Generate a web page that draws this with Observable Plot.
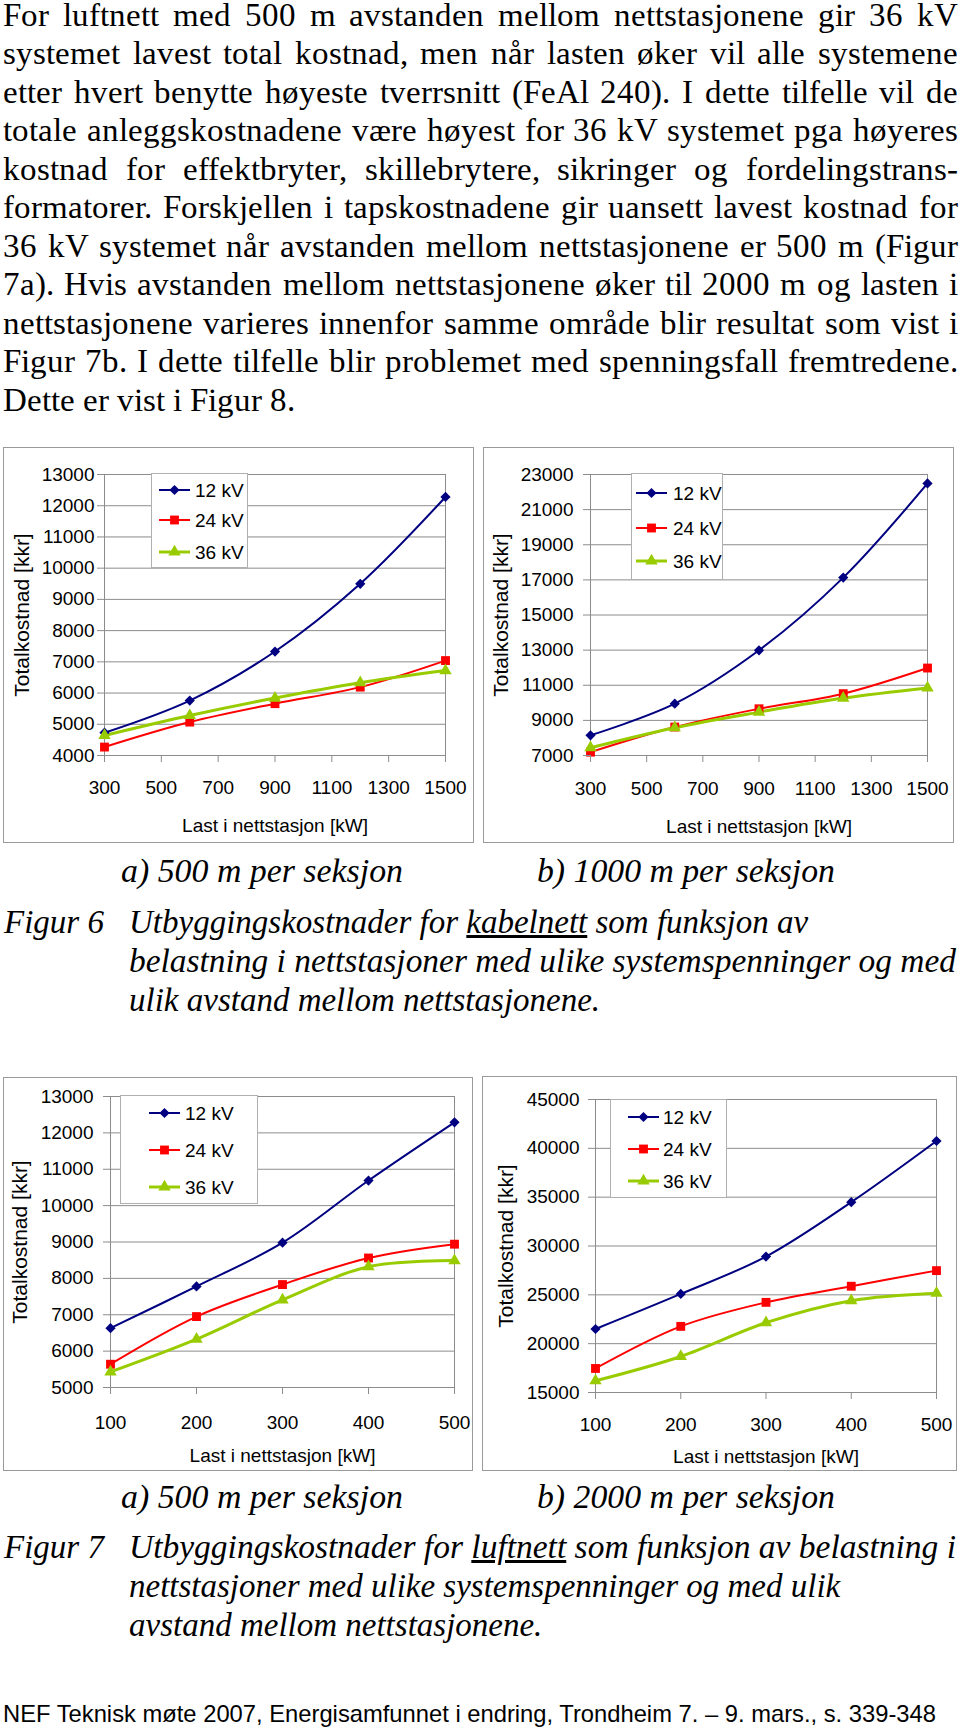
<!DOCTYPE html>
<html><head><meta charset="utf-8">
<script src="https://cdn.jsdelivr.net/npm/d3@7"></script>
<script src="https://cdn.jsdelivr.net/npm/@observablehq/plot@0.6"></script>
<style>
@font-face{font-family:"PSerif";src:local("Liberation Serif"),local("LiberationSerif");font-style:normal;font-weight:400;ascent-override:74%;descent-override:22%;line-gap-override:0%;}
html,body{margin:0;padding:0;background:#fff;overflow:hidden;}
#page{position:relative;width:960px;height:1731px;overflow:hidden;background:#fff;}
.ln{position:absolute;white-space:nowrap;color:#000;transform-origin:0 0;}
.serif{font-family:"Liberation Serif","Times New Roman",serif;}
.pserif{font-family:"PSerif","Liberation Serif","Times New Roman",serif;}
.sans{font-family:"Liberation Sans",Arial,sans-serif;}
.box{position:absolute;border:1.5px solid #9a9a9a;box-sizing:border-box;pointer-events:none;}
.leg{position:absolute;overflow:visible;}
.bm{display:inline-block;width:0;height:0;vertical-align:baseline;}
</style></head><body><div id="page"></div>
<script>
// ---------- data ----------
const seriesNames = ["12 kV", "24 kV", "36 kV"];

// Figur 6 (kabelnett): load 300..1500 kW
const kabelLoad = [300, 600, 900, 1200, 1500];
const kabel500_12 = [4730, 5760, 7330, 9500, 12280];
const kabel500_24 = [4270, 5070, 5660, 6190, 7040];
const kabel500_36 = [4640, 5280, 5840, 6330, 6720];
const kabel1000_12 = [8150, 9950, 12990, 17130, 22490];
const kabel1000_24 = [7190, 8620, 9660, 10520, 11980];
const kabel1000_36 = [7440, 8580, 9470, 10270, 10850];

// Figur 7 (luftnett): load 100..500 kW
const luftLoad = [100, 200, 300, 400, 500];
const luft500_12 = [6630, 7780, 8980, 10690, 12290];
const luft500_24 = [5640, 6950, 7830, 8560, 8940];
const luft500_36 = [5430, 6330, 7410, 8320, 8490];
const luft2000_12 = [21500, 25090, 28920, 34490, 40750];
const luft2000_24 = [17460, 21770, 24230, 25880, 27480];
const luft2000_36 = [16200, 18690, 22150, 24400, 25160];

// tick values
const kabelXTicks = [300, 500, 700, 900, 1100, 1300, 1500];
const kabel500YTicks = [4000, 5000, 6000, 7000, 8000, 9000, 10000, 11000, 12000, 13000];
const kabel1000YTicks = [7000, 9000, 11000, 13000, 15000, 17000, 19000, 21000, 23000];
const luftXTicks = [100, 200, 300, 400, 500];
const luft500YTicks = [5000, 6000, 7000, 8000, 9000, 10000, 11000, 12000, 13000];
const luft2000YTicks = [15000, 20000, 25000, 30000, 35000, 40000, 45000];

const xTitle = "Last i nettstasjon [kW]";
const yTitle = "Totalkostnad [kkr]";

// ---------- styles ----------
const seriesColors = ["#000080", "#ff0000", "#99cc00"];
const seriesWidths = [2, 2, 3];
const seriesSymbols = ["diamond2", "square", "triangle"];
const seriesR = [4.6, 5, 4.6];
const GRID = "#8c8c8c";

const page = document.getElementById("page");

// ---------- text ----------
const paraLines = [
  "For luftnett med 500 m avstanden mellom nettstasjonene gir 36 kV",
  "systemet lavest total kostnad, men når lasten øker vil alle systemene",
  "etter hvert benytte høyeste tverrsnitt (FeAl 240). I dette tilfelle vil de",
  "totale anleggskostnadene være høyest for 36 kV systemet pga høyeres",
  "kostnad for effektbryter, skillebrytere, sikringer og fordelingstrans-",
  "formatorer. Forskjellen i tapskostnadene gir uansett lavest kostnad for",
  "36 kV systemet når avstanden mellom nettstasjonene er 500 m (Figur",
  "7a). Hvis avstanden mellom nettstasjonene øker til 2000 m og lasten i",
  "nettstasjonene varieres innenfor samme område blir resultat som vist i",
  "Figur 7b. I dette tilfelle blir problemet med spenningsfall fremtredene.",
  "Dette er vist i Figur 8."
];

function addLine(t) {
  const d = document.createElement("div");
  d.className = "ln " + (t.sans ? "sans" : (t.para ? "pserif" : "serif"));
  d.style.fontSize = t.size + "px";
  d.style.lineHeight = (0.9 * t.size) + "px";
  if (t.italic) d.style.fontStyle = "italic";
  d.innerHTML = t.html;
  d.style.left = t.x + "px";
  d.style.top = (t.y - 0.75 * t.size) + "px";
  page.appendChild(d);
  // place the baseline exactly at t.y
  const mark = document.createElement("span");
  mark.className = "bm";
  d.appendChild(mark);
  const pageTop = page.getBoundingClientRect().top;
  const base = mark.getBoundingClientRect().top - pageTop;
  d.removeChild(mark);
  d.style.top = (parseFloat(d.style.top) + (t.y - base)) + "px";
  const nat = d.getBoundingClientRect().width;
  if (t.w) {
    if (t.justify && nat < t.w) {
      const spaces = (d.textContent.match(/ /g) || []).length;
      if (spaces) d.style.wordSpacing = ((t.w - nat) / spaces) + "px";
    } else {
      let s = t.w / nat;
      s = Math.max(0.85, Math.min(1.12, s));
      d.style.transform = `scaleX(${s})`;
    }
  }
}

paraLines.forEach((txt, i) => {
  addLine({html: txt, x: 3, y: 25.5 + 38.5 * i, size: 33, para: true,
           w: i < paraLines.length - 1 ? 955 : null, justify: true});
});

// Figur 6 captions
addLine({html: "a) 500 m per seksjon", x: 121, y: 882, size: 33, italic: true, w: 282});
addLine({html: "b) 1000 m per seksjon", x: 537, y: 882, size: 33, italic: true, w: 298});
addLine({html: "Figur 6", x: 4, y: 933, size: 33, italic: true});
addLine({html: "Utbyggingskostnader for <u>kabelnett</u> som funksjon av", x: 129, y: 933, size: 33, italic: true});
addLine({html: "belastning i nettstasjoner med ulike systemspenninger og med", x: 129, y: 972, size: 33, italic: true, w: 827});
addLine({html: "ulik avstand mellom nettstasjonene.", x: 129, y: 1011, size: 33, italic: true});

// Figur 7 captions
addLine({html: "a) 500 m per seksjon", x: 121, y: 1508, size: 33, italic: true, w: 282});
addLine({html: "b) 2000 m per seksjon", x: 537, y: 1508, size: 33, italic: true, w: 298});
addLine({html: "Figur 7", x: 4, y: 1558, size: 33, italic: true});
addLine({html: "Utbyggingskostnader for <u>luftnett</u> som funksjon av belastning i", x: 129, y: 1558, size: 33, italic: true, w: 827});
addLine({html: "nettstasjoner med ulike systemspenninger og med ulik", x: 129, y: 1597, size: 33, italic: true});
addLine({html: "avstand mellom nettstasjonene.", x: 129, y: 1636, size: 33, italic: true});

// footer
addLine({html: "NEF Teknisk møte 2007, Energisamfunnet i endring, Trondheim 7. – 9. mars., s. 339-348", x: 3, y: 1722, size: 24, sans: true, w: 933});

// ---------- charts ----------
function chart(cfg) {
  const rows = [];
  cfg.values.forEach((vals, i) => vals.forEach((v, j) => rows.push({load: cfg.loads[j], cost: v, series: seriesNames[i]})));
  const marks = [
    Plot.gridY(cfg.yTicks, {stroke: GRID, strokeOpacity: 1, strokeWidth: 1}),
    Plot.frame({stroke: GRID, strokeWidth: 1})
  ];
  seriesNames.forEach((name, i) => {
    marks.push(Plot.line(rows.filter(d => d.series === name), {
      x: "load", y: "cost", stroke: seriesColors[i], strokeWidth: seriesWidths[i], curve: "catmull-rom"
    }));
  });
  seriesNames.forEach((name, i) => {
    marks.push(Plot.dot(rows.filter(d => d.series === name), {
      x: "load", y: "cost", symbol: seriesSymbols[i], fill: seriesColors[i], stroke: "none", r: seriesR[i]
    }));
  });
  marks.push(Plot.axisY(cfg.yTicks, {
    tickSize: 7, tickPadding: cfg.yPad, tickFormat: d3.format("d"), stroke: GRID, label: null
  }));
  marks.push(Plot.axisY([], {
    tickSize: 0, fontSize: 21,
    label: yTitle, labelAnchor: "center", labelOffset: cfg.yLab, labelArrow: "none"
  }));
  marks.push(Plot.axisX(cfg.xTicks, {
    tickSize: 7, tickPadding: cfg.xPad, tickFormat: d3.format("d"), stroke: GRID,
    label: xTitle, labelAnchor: "center", labelOffset: cfg.xLab, labelArrow: "none"
  }));
  const svg = Plot.plot({
    width: cfg.w, height: cfg.h,
    marginLeft: cfg.mL, marginRight: cfg.mR, marginTop: cfg.mT, marginBottom: cfg.mB,
    x: {type: "linear", domain: [cfg.xTicks[0], cfg.xTicks[cfg.xTicks.length - 1]]},
    y: {type: "linear", domain: [cfg.yTicks[0], cfg.yTicks[cfg.yTicks.length - 1]]},
    style: {fontFamily: "'Liberation Sans', Arial, sans-serif", fontSize: "19px", color: "#000", background: "transparent", overflow: "visible"},
    marks
  });
  svg.style.position = "absolute";
  svg.style.left = cfg.left + "px";
  svg.style.top = cfg.top + "px";
  page.appendChild(svg);

  const box = document.createElement("div");
  box.className = "box";
  Object.assign(box.style, {left: cfg.left + "px", top: cfg.top + "px", width: cfg.w + "px", height: cfg.h + "px"});
  page.appendChild(box);

  // legend
  const L = cfg.legend;
  const leg = d3.create("svg").attr("class", "leg").attr("width", L.w).attr("height", L.h)
    .style("left", L.x + "px").style("top", L.y + "px");
  leg.append("rect").attr("x", 0.5).attr("y", 0.5).attr("width", L.w - 1).attr("height", L.h - 1)
    .attr("fill", "#fff").attr("stroke", "#b0b0b0");
  const symMap = {diamond2: d3.symbolDiamond2, square: d3.symbolSquare, triangle: d3.symbolTriangle};
  seriesNames.forEach((name, i) => {
    const y = L.rows[i];
    leg.append("line").attr("x1", L.lx0).attr("x2", L.lx1).attr("y1", y).attr("y2", y)
      .attr("stroke", seriesColors[i]).attr("stroke-width", seriesWidths[i]);
    leg.append("path").attr("transform", `translate(${(L.lx0 + L.lx1) / 2},${y})`)
      .attr("d", d3.symbol(symMap[seriesSymbols[i]], Math.PI * seriesR[i] * seriesR[i])())
      .attr("fill", seriesColors[i]);
    leg.append("text").attr("x", L.tx).attr("y", y + 7)
      .attr("font-family", "'Liberation Sans', Arial, sans-serif").attr("font-size", 19).attr("fill", "#000")
      .text(name);
  });
  page.appendChild(leg.node());
}

chart({
  loads: kabelLoad, values: [kabel500_12, kabel500_24, kabel500_36],
  xTicks: kabelXTicks, yTicks: kabel500YTicks,
  left: 3, top: 447, w: 471, h: 396, mL: 101, mR: 29, mT: 27, mB: 88,
  yPad: 3, yLab: 90, xPad: 18, xLab: 76,
  legend: {x: 151, y: 473, w: 97, h: 95, rows: [17, 47, 79], lx0: 8, lx1: 39, tx: 44}
});
chart({
  loads: kabelLoad, values: [kabel1000_12, kabel1000_24, kabel1000_36],
  xTicks: kabelXTicks, yTicks: kabel1000YTicks,
  left: 483, top: 447, w: 471, h: 396, mL: 107, mR: 27, mT: 27, mB: 88,
  yPad: 10, yLab: 97, xPad: 19, xLab: 77,
  legend: {x: 631, y: 473, w: 92, h: 107, rows: [20, 55, 88], lx0: 5, lx1: 36, tx: 42}
});
chart({
  loads: luftLoad, values: [luft500_12, luft500_24, luft500_36],
  xTicks: luftXTicks, yTicks: luft500YTicks,
  left: 3, top: 1077, w: 470, h: 394, mL: 107, mR: 19, mT: 19, mB: 84,
  yPad: 10, yLab: 98, xPad: 21, xLab: 74,
  legend: {x: 120, y: 1095, w: 138, h: 109, rows: [18, 55, 92], lx0: 29, lx1: 60, tx: 65}
});
chart({
  loads: luftLoad, values: [luft2000_12, luft2000_24, luft2000_36],
  xTicks: luftXTicks, yTicks: luft2000YTicks,
  left: 482, top: 1076, w: 475, h: 395, mL: 113, mR: 21, mT: 23, mB: 79,
  yPad: 9, yLab: 97, xPad: 18, xLab: 70,
  legend: {x: 610, y: 1099, w: 117, h: 99, rows: [18, 50, 82], lx0: 18, lx1: 49, tx: 53}
});
</script>
</body></html>
